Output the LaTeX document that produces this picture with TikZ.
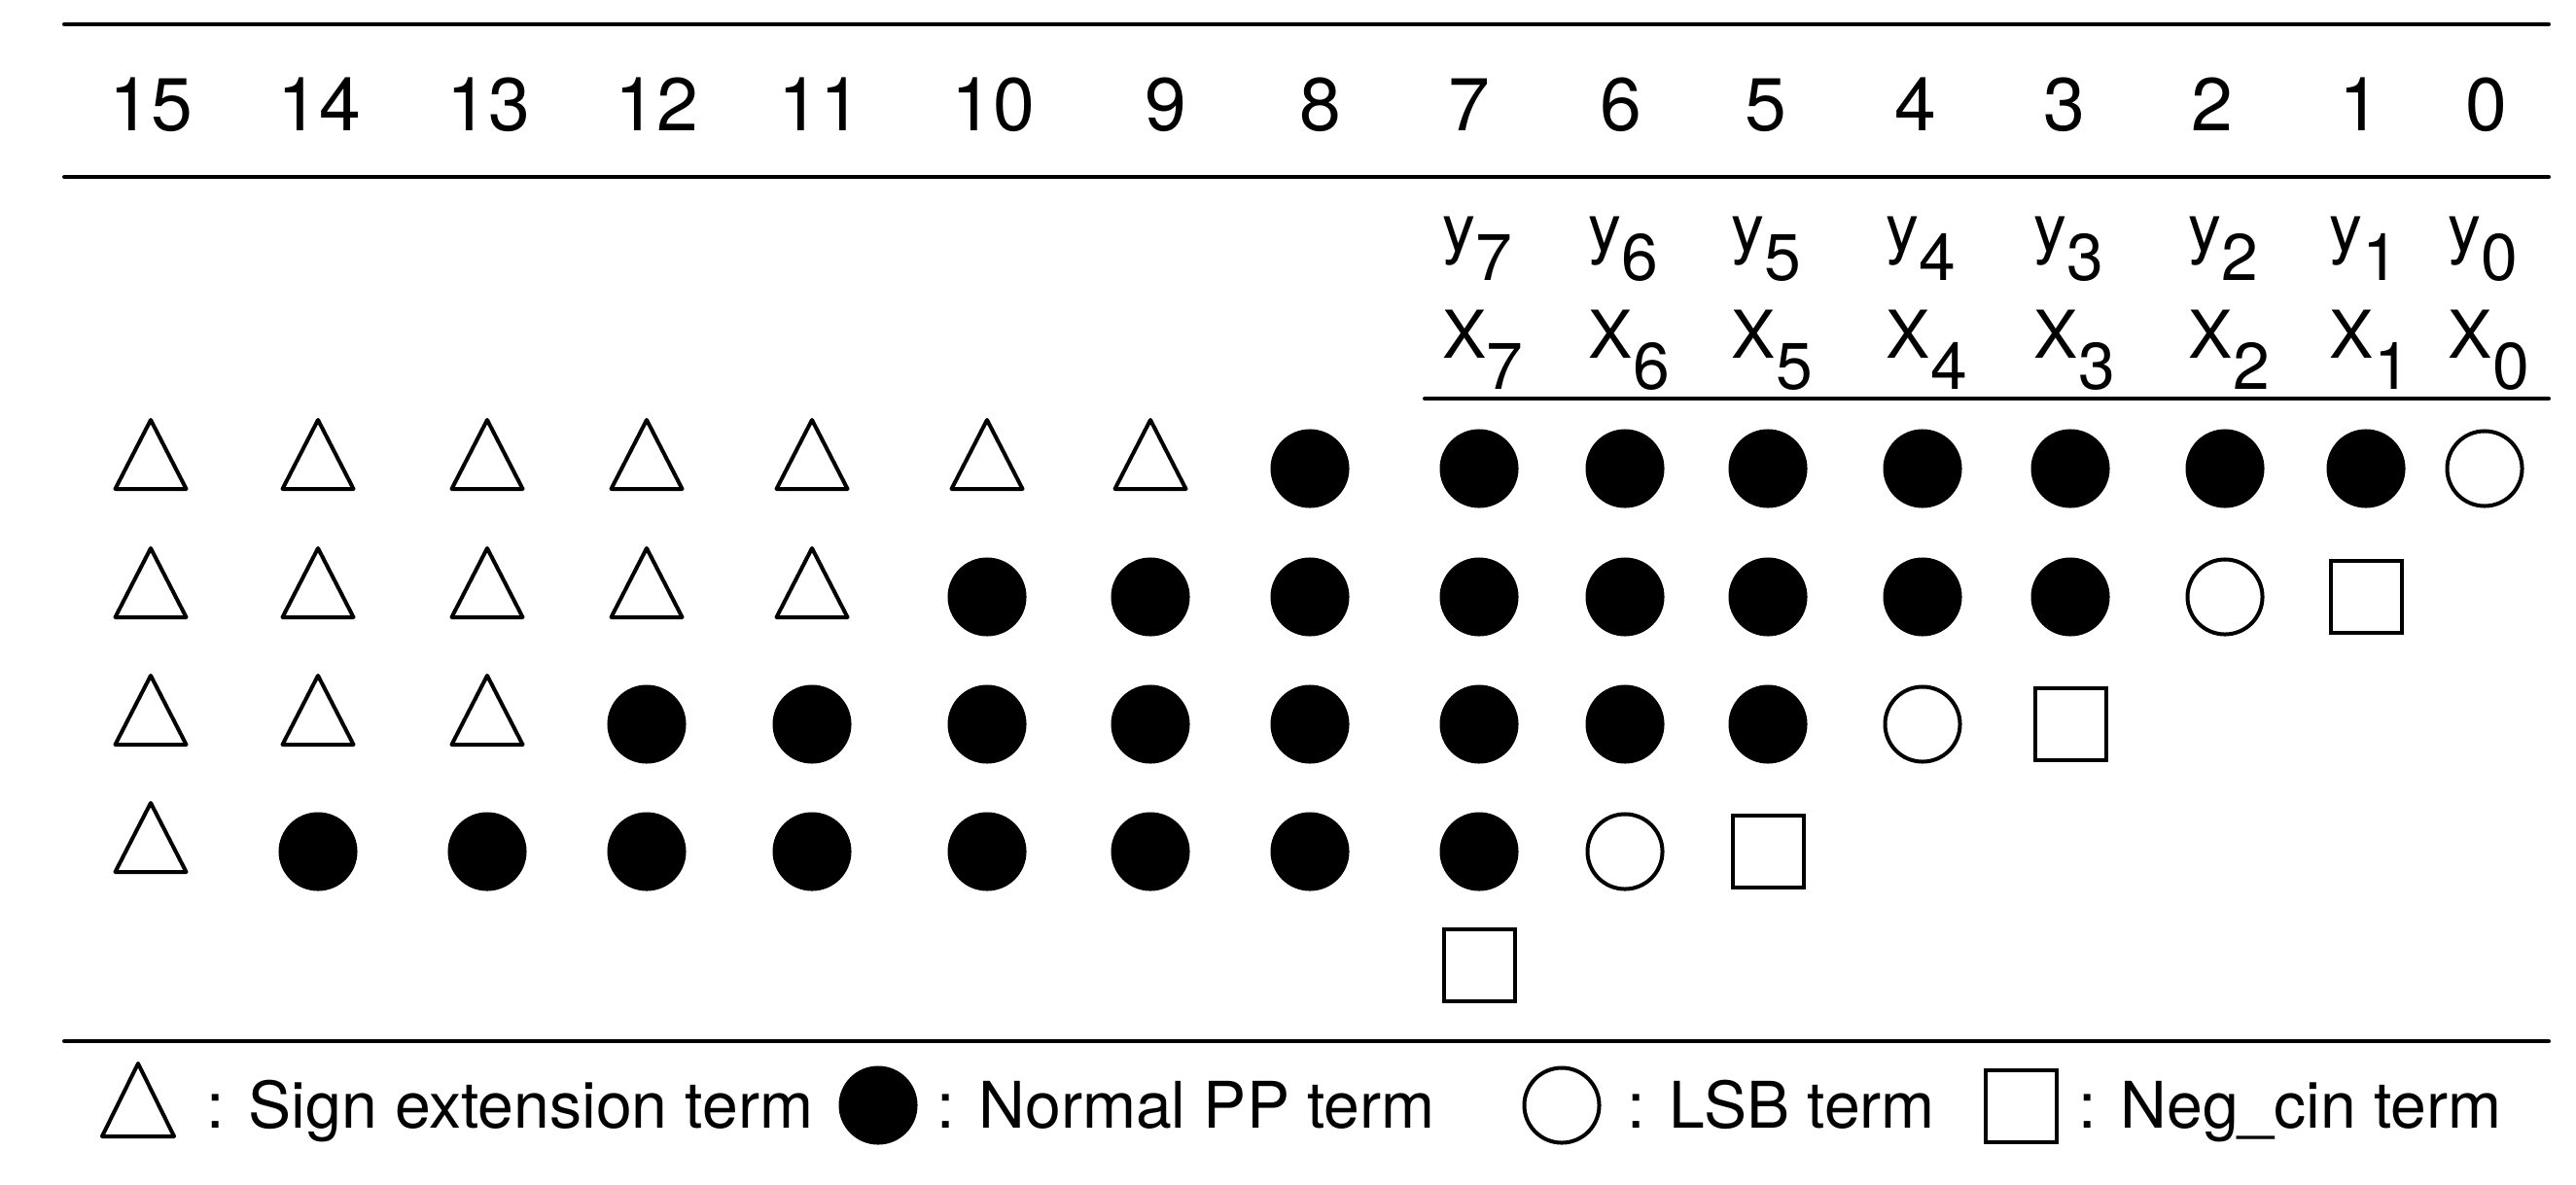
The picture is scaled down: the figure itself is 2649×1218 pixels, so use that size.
\documentclass[tikz,border=0pt]{standalone}
\usepackage{fontspec}
\setmainfont{TeX Gyre Heros}
\usetikzlibrary{shapes.geometric}
\begin{document}
\begin{tikzpicture}[x=0.01cm,y=-0.01cm,
  rule/.style={line width=0.04cm,line cap=round},
  hdr/.style={font=\fontsize{21.9pt}{24pt}\selectfont,inner sep=0pt,anchor=base},
  bitlbl/.style={font=\fontsize{19.3pt}{22pt}\selectfont,inner sep=0pt,anchor=base west},
  lgd/.style={font=\fontsize{18.8pt}{22pt}\selectfont,inner sep=0pt,anchor=base west},
  pp/.style={circle,fill=black,minimum size=0.81cm,inner sep=0pt},
  lsb/.style={circle,draw,line width=0.04cm,minimum size=0.77cm,inner sep=0pt},
  neg/.style={rectangle,draw,line width=0.04cm,minimum size=0.73cm,inner sep=0pt},
  sgn/.style={isosceles triangle,isosceles triangle stretches,shape border rotate=90,
    draw,line width=0.04cm,line join=round,minimum width=0.73cm,minimum height=0.71cm,
    inner sep=0pt,anchor=south},
]
\useasboundingbox (0,0) rectangle (2649,1218);

% rules
\coordinate (r0l) at (66,25);   \coordinate (r0r) at (2621,25);
\coordinate (r1l) at (66,182);  \coordinate (r1r) at (2621,182);
\coordinate (r2l) at (1465,410); \coordinate (r2r) at (2621,410);
\coordinate (r3l) at (66,1071); \coordinate (r3r) at (2621,1071);
\draw[rule] (r0l) -- (r0r);
\draw[rule] (r1l) -- (r1r);
\draw[rule] (r2l) -- (r2r);
\draw[rule] (r3l) -- (r3r);

% column headers
\foreach \c/\x in {15/155,14/328,13/502,12/675,11/843,10/1021,9/1199,8/1358,
                   7/1511,6/1667,5/1816,4/1970,3/2123,2/2275,1/2427,0/2557}
  \node[hdr] (h\c) at (\x,134) {\c};

% operand labels
\foreach \c/\x in {7/1521,6/1671,5/1818,4/1977,3/2129,2/2288,1/2433,0/2555}{
  \node[bitlbl] (y\c) at (\x-38,258) {y\raisebox{-0.30cm}{\c}};
  \node[bitlbl] (x\c) at (\x-38,368) {X\raisebox{-0.32cm}{\c}};
}

% column and row coordinates
\foreach \c/\x in {15/155,14/327,13/501,12/665,11/835,10/1015,9/1183,8/1347,
                   7/1521,6/1671,5/1818,4/1977,3/2129,2/2288,1/2433,0/2555}
  \coordinate (c\c) at (\x,0);
\coordinate (ra) at (0,482);  \coordinate (ta) at (0,505);
\coordinate (rb) at (0,614);  \coordinate (tb) at (0,637);
\coordinate (rc) at (0,745);  \coordinate (tc) at (0,768);
\coordinate (rd) at (0,876);  \coordinate (td) at (0,899);
\coordinate (re) at (0,993);

% row 1
\foreach \c in {15,...,9} \node[sgn] (a\c) at (c\c |- ta) {};
\foreach \c in {8,...,1}  \node[pp]  (a\c) at (c\c |- ra) {};
\node[lsb] (a0) at (c0 |- ra) {};
% row 2
\foreach \c in {15,...,11} \node[sgn] (b\c) at (c\c |- tb) {};
\foreach \c in {10,...,3}  \node[pp]  (b\c) at (c\c |- rb) {};
\node[lsb] (b2) at (c2 |- rb) {};
\node[neg] (b1) at (c1 |- rb) {};
% row 3
\foreach \c in {15,...,13} \node[sgn] (d\c) at (c\c |- tc) {};
\foreach \c in {12,...,5}  \node[pp]  (d\c) at (c\c |- rc) {};
\node[lsb] (d4) at (c4 |- rc) {};
\node[neg] (d3) at (c3 |- rc) {};
% row 4
\node[sgn] (e15) at (c15 |- td) {};
\foreach \c in {14,...,7}  \node[pp]  (e\c) at (c\c |- rd) {};
\node[lsb] (e6) at (c6 |- rd) {};
\node[neg] (e5) at (c5 |- rd) {};
% row 5
\node[neg] (f7) at (c7 |- re) {};

% legend
\node[sgn,minimum width=0.74cm,minimum height=0.75cm] (ls) at (142,1171) {};
\node[lgd] (lst) at (212,1160) {: Sign extension term};
\node[pp] (lp) at (903,1137) {};
\node[lgd] (lpt) at (963,1160) {: Normal PP term};
\node[lsb] (ll) at (1606,1137) {};
\node[lgd] (llt) at (1673,1160) {: LSB term};
\node[neg] (ln) at (2078,1138) {};
\node[lgd] (lnt) at (2137,1160) {: Neg\_cin term};
\end{tikzpicture}
\end{document}
